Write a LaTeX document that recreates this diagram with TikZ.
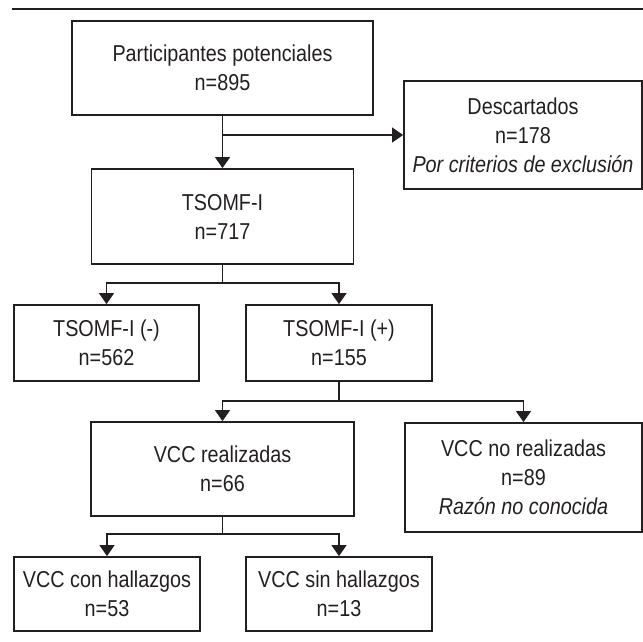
\documentclass[tikz,border=0pt]{standalone}
\usepackage{fontspec}
\setmainfont[FakeStretch=0.86]{Liberation Sans}
\usetikzlibrary{arrows.meta}
\definecolor{ink}{HTML}{231F20}
\tikzset{
  >={Triangle[width=15pt,length=11pt]},
}
\tikzstyle{box}=[draw=ink,line width=1.8pt,inner sep=0pt,align=center,text=ink,font=\fontsize{23pt}{29pt}\selectfont]
\tikzstyle{conn}=[draw=ink,line width=1.2pt]
\begin{document}
\begin{tikzpicture}[x=1pt,y=-1pt]
    \useasboundingbox (0,0) rectangle (643,641);
    \draw[conn] (12,9)--(643,9);
    \node[box,minimum width=301,minimum height=94] (pot) at (222.5,68) {Participantes potenciales\\n=895};
    \node[box,minimum width=238,minimum height=108] (desc) at (523,135) {Descartados\\n=178\\\textit{Por criterios de exclusión}};
    \node[box,minimum width=262,minimum height=95] (tsomf) at (222.5,216.5) {TSOMF-I\\n=717};
    \node[box,minimum width=185,minimum height=76] (neg) at (106.5,343) {TSOMF-I (-)\\n=562};
    \node[box,minimum width=186,minimum height=76] (pos) at (339,343) {TSOMF-I (+)\\n=155};
    \node[box,minimum width=263,minimum height=94] (real) at (222.5,469) {VCC realizadas\\n=66};
    \node[box,minimum width=237,minimum height=109] (noreal) at (523.5,477.5) {VCC no realizadas\\n=89\\\textit{Razón no conocida}};
    \node[box,minimum width=186,minimum height=74] (con) at (107,594) {VCC con hallazgos\\n=53};
    \node[box,minimum width=186,minimum height=74] (sin) at (339,594) {VCC sin hallazgos\\n=13};
    \coordinate (split) at (pot.south |- desc.west);
    \draw[conn,->] (pot.south)--(tsomf.north);
    \draw[conn,->] (split)--(desc.west);
    \draw[conn,->] (tsomf.south)--++(0,18) -| (neg.north);
    \draw[conn,->] (tsomf.south)--++(0,18) -| (pos.north);
    \draw[conn,->] (pos.south)--++(0,19) -| (real.north);
    \draw[conn,->] (pos.south)--++(0,19) -| (noreal.north);
    \draw[conn,->] (real.south)--++(0,17) -| (con.north);
    \draw[conn,->] (real.south)--++(0,17) -| (sin.north);
\end{tikzpicture}
\end{document}
